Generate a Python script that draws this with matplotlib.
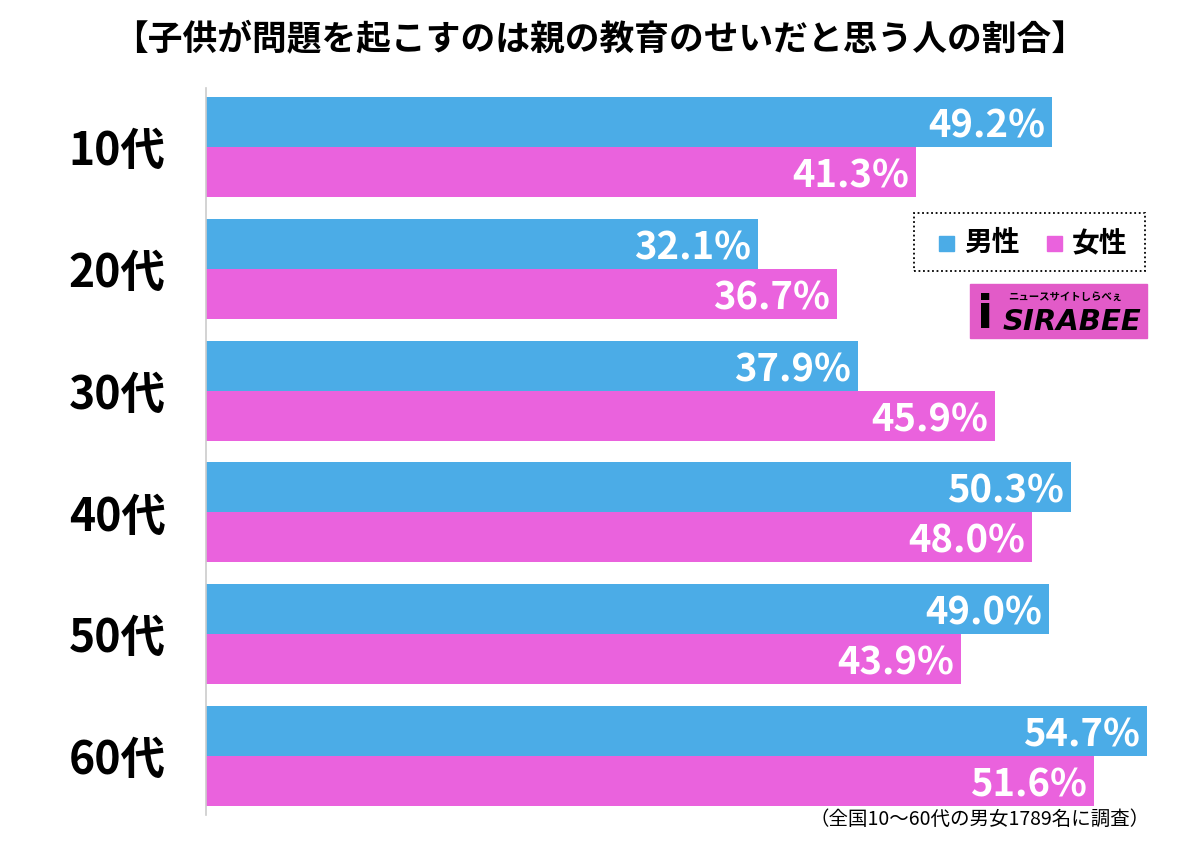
import matplotlib
matplotlib.use("Agg")
import matplotlib.pyplot as plt
from matplotlib.patches import Rectangle
import numpy as np

plt.rcParams['font.family'] = ['Noto Sans CJK JP', 'DejaVu Sans']

categories = ["10代", "20代", "30代", "40代", "50代", "60代"]
male = [49.2, 32.1, 37.9, 50.3, 49.0, 54.7]
female = [41.3, 36.7, 45.9, 48.0, 43.9, 51.6]
series_names = ["男性", "女性"]
title = "【子供が問題を起こすのは親の教育のせいだと思う人の割合】"
note = "（全国10〜60代の男女1789名に調査）"

blue = "#4BACE7"
pink = "#EA62DD"

fig = plt.figure(figsize=(12, 8.42), dpi=100)
ax = fig.add_axes([206/1200, 1-815/842, (1165-206)/1200, (815-88)/842])

y = np.arange(len(categories))
h = 0.41
ax.barh(y - h/2, male, height=h, color=blue)
ax.barh(y + h/2, female, height=h, color=pink)

ax.set_xlim(0, (1165-206)/17.2)
ax.set_ylim(5.484, -0.484)

for i in range(len(categories)):
    ax.text(male[i] - 0.4, y[i] - h/2, f"{male[i]:.1f}%", ha="right", va="center_baseline",
            color="white", fontsize=27.5, fontweight="bold")
    ax.text(female[i] - 0.4, y[i] + h/2, f"{female[i]:.1f}%", ha="right", va="center_baseline",
            color="white", fontsize=27.5, fontweight="bold")

ax.set_yticks(y)
ax.set_yticklabels(categories, fontsize=32, fontweight="bold")
ax.tick_params(axis="y", length=0, pad=29)
ax.set_xticks([])
for s in ["top", "right", "bottom"]:
    ax.spines[s].set_visible(False)
ax.spines["left"].set_color("#cccccc")
ax.spines["left"].set_linewidth(1.2)

fig.text(0.5, 1-40/842, title, ha="center", va="center", fontsize=25, fontweight="bold")
fig.text(1150/1200, 1-819/842, note, ha="right", va="center", fontsize=14)

# legend box
lx0, ly0, lx1, ly1 = 914, 213, 1145, 271
fig.patches.append(Rectangle((lx0/1200, 1-ly1/842), (lx1-lx0)/1200, (ly1-ly0)/842,
                             transform=fig.transFigure, fill=False, edgecolor="black",
                             linestyle=(0, (1, 1.5)), linewidth=1.3))
fig.patches.append(Rectangle((939/1200, 1-251/842), 15/1200, 15/842, transform=fig.transFigure,
                             color=blue))
fig.text(964/1200, 1-243/842, series_names[0], ha="left", va="center", fontsize=20, fontweight="bold")
fig.patches.append(Rectangle((1047/1200, 1-251/842), 15/1200, 15/842, transform=fig.transFigure,
                             color=pink))
fig.text(1072/1200, 1-243/842, series_names[1], ha="left", va="center", fontsize=20, fontweight="bold")

# logo
fig.patches.append(Rectangle((970/1200, 1-338/842), (1147-970)/1200, (338-284)/842,
                             transform=fig.transFigure, color="#E25BC8"))
fig.text(1003/1200, 1-322/842, "SIRABEE", ha="left", va="center", fontsize=21,
         fontweight="heavy", style="italic", color="black", family=["DejaVu Sans"])
fig.text(1008/1200, 1-297/842, "ニュースサイトしらべぇ", ha="left", va="center", fontsize=7.5,
         fontweight="bold", color="black")
fig.text(985/1200, 1-315/842, "i", ha="center", va="center", fontsize=34,
         fontweight="heavy", color="black", family=["DejaVu Sans"])

fig.savefig("out.png", dpi=100)
